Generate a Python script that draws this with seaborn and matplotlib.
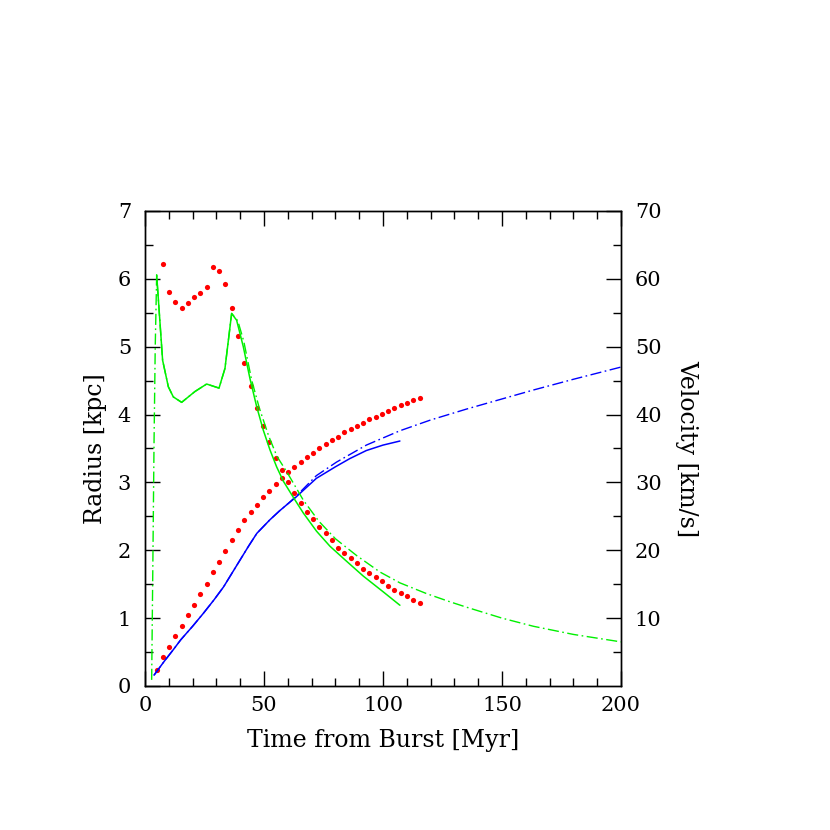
import numpy as np
import pandas as pd
import matplotlib
matplotlib.use('Agg')
import matplotlib.pyplot as plt
import seaborn as sns
from matplotlib.ticker import MultipleLocator, FixedLocator

sns.set_theme(style='ticks')
plt.rcParams['font.family'] = ['DejaVu Serif']
plt.rcParams['text.color'] = 'black'
plt.rcParams['axes.labelcolor'] = 'black'
plt.rcParams['xtick.color'] = 'black'
plt.rcParams['ytick.color'] = 'black'

# simulation output times for the dotted (red) series [Myr]
dot_t = [4.9, 7.5, 10.2, 12.8, 15.4, 18.1, 20.7, 23.3, 25.9, 28.6, 31.2, 33.8,
         36.5, 39.1, 41.7, 44.4, 47.0, 49.6, 52.2, 54.9, 57.5, 60.1, 62.8, 65.4,
         68.0, 70.7, 73.3, 75.9, 78.5, 81.2, 83.8, 86.4, 89.1, 91.7, 94.3, 97.0,
         99.6, 102.2, 104.8, 107.5, 110.1, 112.7, 115.4]
# shell radius [kpc] (red dots, rising)
dot_radius = [0.24, 0.42, 0.58, 0.74, 0.89, 1.04, 1.19, 1.35, 1.51, 1.68, 1.83, 1.99,
              2.15, 2.30, 2.44, 2.56, 2.67, 2.78, 2.88, 2.98, 3.06, 3.15, 3.23, 3.30,
              3.37, 3.43, 3.51, 3.57, 3.63, 3.67, 3.74, 3.78, 3.83, 3.88, 3.93, 3.97,
              4.01, 4.05, 4.10, 4.14, 4.17, 4.21, 4.25]
# shell velocity [km/s] (red dots, falling) - starts at second output
dot_vel = [62.2, 58.0, 56.6, 55.7, 56.5, 57.3, 57.9, 58.8, 61.7, 61.2, 59.3,
           55.7, 51.6, 47.6, 44.2, 41.0, 38.3, 35.9, 33.6, 31.8, 30.0, 28.4, 27.0,
           25.7, 24.6, 23.4, 22.5, 21.5, 20.4, 19.6, 18.8, 18.1, 17.3, 16.7, 16.0,
           15.4, 14.8, 14.2, 13.7, 13.2, 12.7, 12.2]

# green solid: velocity [km/s]
green_t = [4.9, 7.4, 9.8, 11.9, 15.4, 21.0, 25.9, 31.1, 33.6, 36.4, 38.5, 41.3,
           44.1, 46.9, 49.7, 52.5, 55.3, 58.1, 62.5, 66.5, 72.1, 77.7, 84.0, 91.7,
           100.0, 107.1]
green_v = [60.6, 48.0, 44.1, 42.6, 41.8, 43.4, 44.5, 43.9, 46.8, 54.9, 53.9, 50.0,
           45.3, 41.2, 37.7, 34.8, 32.3, 30.2, 27.7, 25.5, 22.8, 20.6, 18.6, 16.2,
           13.9, 11.9]

# green dash-dot: model velocity [km/s]
gmod_t = [2.8, 3.3, 3.8, 4.3, 4.9, 7.4, 9.8, 11.9, 15.4, 21.0, 25.9, 31.1, 33.6,
          36.4, 39.0, 41.5, 44.8, 48.0, 52.0, 55.5, 59.5, 66.5, 73.0, 80.0, 89.0,
          98.7, 107.1, 118.4, 128.2, 135.2, 150.0, 163.2, 180.0, 200.0]
gmod_v = [0.9, 18.0, 36.0, 50.0, 60.5, 48.0, 44.1, 42.6, 41.8, 43.4, 44.5, 43.9, 46.8,
          54.9, 53.8, 50.8, 45.1, 41.0, 36.8, 33.8, 31.6, 27.4, 24.3, 21.7, 19.2,
          16.8, 15.2, 13.6, 12.4, 11.6, 10.0, 8.8, 7.6, 6.5]

# blue solid: radius [kpc]
blue_t = [3.8, 8.0, 12.0, 15.0, 20.0, 24.5, 29.0, 33.0, 36.5, 40.0, 43.5, 47.0,
          52.5, 56.5, 60.2, 63.0, 72.0, 80.0, 86.0, 93.0, 100.0, 107.1]
blue_r = [0.16, 0.36, 0.54, 0.68, 0.88, 1.07, 1.27, 1.46, 1.66, 1.86, 2.06, 2.25,
          2.45, 2.58, 2.69, 2.77, 3.06, 3.23, 3.35, 3.47, 3.55, 3.61]

# blue dash-dot: model radius [kpc]
bmod_t = [3.8, 8.0, 12.0, 15.0, 20.0, 24.5, 29.0, 33.0, 36.5, 40.0, 43.5, 47.0,
          52.5, 56.5, 60.2, 63.0, 72.0, 80.5, 93.0, 107.0, 120.0, 135.0, 150.0,
          163.0, 180.0, 200.0]
bmod_r = [0.16, 0.36, 0.54, 0.68, 0.88, 1.07, 1.27, 1.46, 1.66, 1.86, 2.06, 2.25,
          2.45, 2.58, 2.69, 2.78, 3.10, 3.30, 3.55, 3.76, 3.92, 4.08, 4.23,
          4.36, 4.52, 4.70]

fig = plt.figure(figsize=(8.3, 8.3), dpi=100)
ax = fig.add_axes([0.1747, 0.1735, 0.5735, 0.5723])
ax2 = ax.twinx()

dashdot = (0, (8, 2.5, 1.2, 2.5))
green = '#00f000'
blue = '#0000ff'
red = '#ff0000'

sns.lineplot(x=bmod_t, y=bmod_r, ax=ax, color=blue, lw=1.0, linestyle=dashdot,
             sort=False, estimator=None)
sns.lineplot(x=blue_t, y=blue_r, ax=ax, color=blue, lw=1.1, sort=False, estimator=None)
sns.scatterplot(x=dot_t, y=dot_radius, ax=ax, color=red, s=14, linewidth=0)

sns.lineplot(x=gmod_t, y=gmod_v, ax=ax2, color=green, lw=1.0, linestyle=dashdot,
             sort=False, estimator=None)
sns.lineplot(x=green_t, y=green_v, ax=ax2, color=green, lw=1.1, sort=False, estimator=None)
sns.scatterplot(x=dot_t[1:], y=dot_vel, ax=ax2, color=red, s=14, linewidth=0)

fs = 15
lfs = 17
ax.set_xlim(0, 200)
ax.set_ylim(0, 7)
ax2.set_ylim(0, 70)

ax.xaxis.set_major_locator(MultipleLocator(50))
ax.xaxis.set_minor_locator(MultipleLocator(10))
ax.yaxis.set_major_locator(MultipleLocator(1))
ax.yaxis.set_minor_locator(MultipleLocator(0.5))
ax2.yaxis.set_major_locator(FixedLocator([10, 20, 30, 40, 50, 60, 70]))
ax2.yaxis.set_minor_locator(FixedLocator([5, 15, 25, 35, 45, 55, 65]))

ax.tick_params(which='both', direction='in', top=True, right=False, color='black',
               labelcolor='black', width=1.0, labelsize=fs)
ax.tick_params(which='major', length=11)
ax.tick_params(which='minor', length=5.5)
ax.tick_params(axis='y', pad=10)
ax.tick_params(axis='x', pad=7)
ax2.tick_params(which='both', direction='in', color='black', labelcolor='black',
                width=1.0, labelsize=fs, pad=10)
ax2.tick_params(which='major', length=11)
ax2.tick_params(which='minor', length=5.5)

for a in (ax, ax2):
    for sp in a.spines.values():
        sp.set_color('black')
        sp.set_linewidth(1.0)

ax.set_xlabel('Time from Burst [Myr]', fontsize=lfs, labelpad=10, color='black')
ax.set_ylabel('Radius [kpc]', fontsize=lfs, labelpad=8, color='black')
ax2.set_ylabel('Velocity [km/s]', fontsize=lfs, rotation=-90, labelpad=26, color='black')

fig.savefig('out.png', dpi=100, facecolor='white')
